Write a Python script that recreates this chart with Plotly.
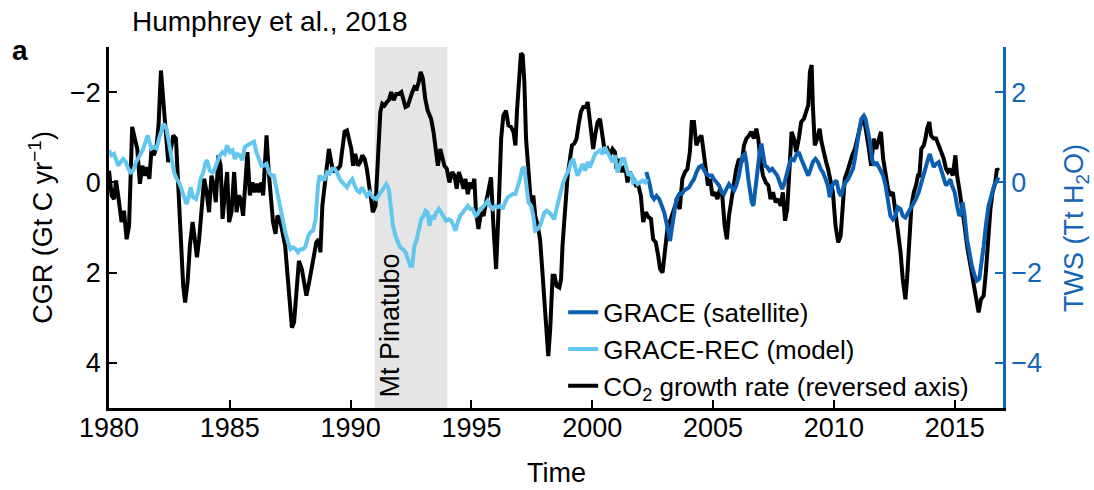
import plotly.graph_objects as go

# CO2 growth rate (Gt C / yr), plotted on a reversed axis
cgr_years = [1980.00, 1980.11, 1980.21, 1980.29, 1980.38, 1980.52, 1980.62, 1980.73, 1980.83, 1980.96,
             1981.07, 1981.17, 1981.28, 1981.38, 1981.49, 1981.56, 1981.67, 1981.76, 1981.86, 1981.97,
             1982.05, 1982.15, 1982.24, 1982.34, 1982.45, 1982.56, 1982.66, 1982.77, 1982.86, 1982.98,
             1983.07, 1983.15, 1983.25, 1983.35, 1983.46, 1983.55, 1983.64, 1983.73, 1983.84, 1983.94,
             1984.04, 1984.14, 1984.24, 1984.34, 1984.42, 1984.53, 1984.62, 1984.70, 1984.79, 1984.89,
             1984.97, 1985.07, 1985.18, 1985.28, 1985.37, 1985.45, 1985.55, 1985.66, 1985.73, 1985.83,
             1985.94, 1986.03, 1986.13, 1986.21, 1986.31, 1986.38, 1986.52, 1986.61, 1986.71, 1986.79,
             1986.89, 1986.97, 1987.07, 1987.18, 1987.29, 1987.38, 1987.48, 1987.57, 1987.66, 1987.76,
             1987.86, 1987.98, 1988.07, 1988.17, 1988.28, 1988.38, 1988.48, 1988.58, 1988.68, 1988.75,
             1988.83, 1988.93, 1989.02, 1989.10, 1989.20, 1989.27, 1989.38, 1989.48, 1989.57, 1989.66,
             1989.75, 1989.85, 1989.93, 1990.03, 1990.10, 1990.19, 1990.30, 1990.40, 1990.48, 1990.58,
             1990.67, 1990.79, 1990.92, 1991.03, 1991.13, 1991.23, 1991.31, 1991.40, 1991.50, 1991.58,
             1991.68, 1991.78, 1991.89, 1992.00, 1992.10, 1992.19, 1992.27, 1992.37, 1992.47, 1992.55,
             1992.64, 1992.74, 1992.82, 1992.90, 1992.99, 1993.09, 1993.19, 1993.33, 1993.43, 1993.51,
             1993.61, 1993.71, 1993.79, 1993.88, 1993.98, 1994.09, 1994.20, 1994.30, 1994.39, 1994.48,
             1994.57, 1994.67, 1994.75, 1994.85, 1994.95, 1995.03, 1995.12, 1995.19, 1995.29, 1995.40,
             1995.50, 1995.61, 1995.71, 1995.81, 1995.91, 1996.02, 1996.13, 1996.23, 1996.32, 1996.43,
             1996.53, 1996.64, 1996.74, 1996.82, 1996.89, 1996.98, 1997.05, 1997.12, 1997.19, 1997.26,
             1997.37, 1997.47, 1997.56, 1997.64, 1997.74, 1997.84, 1997.92, 1998.02, 1998.11, 1998.18,
             1998.26, 1998.36, 1998.44, 1998.52, 1998.64, 1998.71, 1998.77, 1998.88, 1998.98, 1999.08,
             1999.16, 1999.26, 1999.35, 1999.43, 1999.53, 1999.63, 1999.74, 1999.81, 1999.88, 1999.95,
             2000.04, 2000.12, 2000.22, 2000.32, 2000.43, 2000.52, 2000.63, 2000.73, 2000.84, 2000.94,
             2001.00, 2001.09, 2001.19, 2001.25, 2001.36, 2001.46, 2001.56, 2001.67, 2001.81, 2001.91,
             2002.01, 2002.11, 2002.22, 2002.33, 2002.43, 2002.52, 2002.63, 2002.73, 2002.81, 2002.91,
             2003.00, 2003.11, 2003.21, 2003.32, 2003.43, 2003.52, 2003.62, 2003.73, 2003.84, 2003.94,
             2004.04, 2004.12, 2004.21, 2004.31, 2004.42, 2004.52, 2004.60, 2004.70, 2004.79, 2004.88,
             2004.97, 2005.08, 2005.18, 2005.29, 2005.38, 2005.48, 2005.57, 2005.66, 2005.76, 2005.87,
             2005.96, 2006.07, 2006.19, 2006.28, 2006.38, 2006.49, 2006.58, 2006.69, 2006.79, 2006.87,
             2006.97, 2007.07, 2007.18, 2007.29, 2007.38, 2007.48, 2007.59, 2007.70, 2007.80, 2007.89,
             2007.98, 2008.07, 2008.17, 2008.25, 2008.35, 2008.44, 2008.55, 2008.65, 2008.76, 2008.86,
             2008.94, 2009.01, 2009.08, 2009.13, 2009.21, 2009.31, 2009.41, 2009.49, 2009.59, 2009.68,
             2009.76, 2009.86, 2009.96, 2010.07, 2010.18, 2010.28, 2010.37, 2010.45, 2010.55, 2010.65,
             2010.76, 2010.87, 2010.96, 2011.07, 2011.17, 2011.27, 2011.35, 2011.45, 2011.54, 2011.65,
             2011.75, 2011.86, 2011.95, 2012.04, 2012.14, 2012.24, 2012.34, 2012.44, 2012.55, 2012.64,
             2012.76, 2012.85, 2012.96, 2013.03, 2013.13, 2013.21, 2013.31, 2013.40, 2013.48, 2013.54,
             2013.62, 2013.72, 2013.79, 2013.86, 2013.95, 2014.02, 2014.13, 2014.23, 2014.34, 2014.45,
             2014.55, 2014.64, 2014.72, 2014.82, 2014.92, 2015.03, 2015.10, 2015.19, 2015.30, 2015.41,
             2015.51, 2015.61, 2015.71, 2015.83, 2015.92, 2015.99, 2016.09, 2016.20, 2016.29, 2016.38,
             2016.48, 2016.57, 2016.68, 2016.75, 2016.82]
cgr_values = [-0.26, 0.29, 0.37, -0.04, 0.29, 0.88, 0.63, 1.26, 0.96, -1.23,
              -0.97, -0.74, 0.03, -0.37, -0.15, -0.34, -0.08, -0.74, -0.60, -0.82,
              -1.26, -2.48, -1.86, -1.12, -0.45, -0.74, -1.04, -0.97, -0.08, 1.10,
              2.29, 2.66, 2.22, 1.40, 0.88, 1.26, 1.66, 1.26, 0.52, -0.08,
              0.22, 0.66, -0.15, 0.07, 0.44, -0.60, -0.37, 0.81, 0.29, -0.23,
              0.88, 0.66, -0.23, 0.66, 0.29, 0.37, 0.74, -0.23, -0.67, 0.29,
              0.00, 0.22, 0.03, 0.22, 0.00, 0.29, -1.04, -0.23, 0.37, 0.88,
              1.14, 0.74, 0.81, 1.10, 1.40, 2.00, 2.74, 3.22, 3.10, 2.44,
              1.74, 1.92, 2.22, 2.51, 2.22, 1.92, 1.55, 1.33, 1.26, 1.55,
              0.52, 0.07, -0.37, -0.74, -0.45, -0.23, -0.30, -0.30, -0.37, -0.82,
              -1.12, -1.15, -1.00, -0.74, -0.37, -0.63, -0.37, -0.45, -0.60, -0.52,
              -0.30, 0.22, 0.66, 0.52, -0.37, -1.56, -1.74, -1.70, -1.78, -1.82,
              -2.00, -1.82, -1.96, -1.96, -2.00, -1.82, -1.67, -1.70, -1.89, -2.00,
              -2.11, -2.08, -2.23, -2.45, -2.30, -1.85, -1.59, -1.41, -1.12, -0.82,
              -0.37, -0.74, -0.60, -0.37, -0.30, 0.00, -0.23, -0.15, 0.14, -0.23,
              -0.08, 0.14, -0.08, 0.26, 0.00, 0.14, -0.08, 0.66, 1.03, 0.66,
              0.74, 0.44, 0.07, -0.11, 0.96, 1.92, 0.52, -0.97, -1.48, -1.59,
              -1.26, -1.23, -1.12, -0.82, -1.63, -2.37, -2.86, -2.82, -2.23, -0.97,
              0.00, 0.52, 0.29, 0.74, 0.96, 1.26, 1.85, 2.66, 3.40, 3.85,
              3.25, 2.07, 2.07, 2.29, 2.33, 2.14, 1.40, 0.66, -0.15, -0.52,
              -0.82, -0.86, -0.97, -1.26, -1.56, -1.67, -1.67, -1.78, -1.41, -1.04,
              -0.74, -1.04, -1.33, -1.41, -1.04, -0.67, -0.74, -0.60, -0.74, -0.67,
              -0.30, -0.52, -0.30, -0.23, -0.37, 0.00, -0.23, -0.08, 0.07, 0.07,
              0.29, 0.88, 0.66, 0.77, 0.81, 1.26, 1.33, 1.63, 1.92, 2.00,
              1.55, 1.03, 0.88, 0.66, 0.52, 0.44, 0.59, -0.08, -0.23, -0.30,
              -0.67, -1.34, -1.34, -0.82, -0.97, -1.04, -0.67, -0.23, 0.07, -0.08,
              0.29, 0.22, 0.37, 0.14, 0.29, 0.96, 1.26, 0.74, 0.37, -0.08,
              -0.30, -0.52, -0.45, -0.82, -0.97, -1.04, -1.12, -0.97, -1.19, -0.97,
              -0.45, -0.15, 0.00, 0.07, 0.37, 0.22, 0.44, 0.37, 0.52, 0.22,
              0.85, 0.59, -0.23, -1.12, -0.97, -0.67, -0.97, -1.34, -1.41, -1.56,
              -1.71, -2.45, -2.60, -1.71, -0.82, -0.97, -1.19, -0.89, -0.60, -0.45,
              -0.30, -0.08, 0.22, 0.96, 1.33, 1.19, 0.37, -0.08, -0.23, -0.45,
              -0.60, -0.74, -0.97, -1.26, -1.41, -1.34, -1.12, -0.74, -0.37, -0.97,
              -0.74, -0.97, -1.12, -0.52, -0.23, 0.14, 0.29, 0.22, 0.66, 1.03,
              1.55, 2.14, 2.59, 2.14, 1.26, 0.52, 0.22, 0.07, -0.15, -0.15,
              -0.74, -0.82, -0.97, -1.19, -1.34, -1.04, -0.97, -0.97, -0.82, -0.67,
              -0.52, -0.30, -0.23, -0.30, -0.15, -0.60, -0.15, 0.14, 0.52, 0.96,
              1.40, 1.70, 2.00, 2.37, 2.66, 2.88, 2.59, 2.51, 2.00, 1.26,
              0.59, 0.22, 0.00, -0.30, -0.26]

# GRACE-REC reconstruction of terrestrial water storage (Tt H2O)
rec_years = [1980.00, 1980.11, 1980.21, 1980.29, 1980.38, 1980.48, 1980.59, 1980.70, 1980.80, 1980.90,
             1981.00, 1981.12, 1981.21, 1981.31, 1981.42, 1981.53, 1981.60, 1981.67, 1981.76, 1981.86,
             1981.97, 1982.07, 1982.18, 1982.27, 1982.38, 1982.48, 1982.59, 1982.69, 1982.80, 1982.90,
             1983.00, 1983.10, 1983.21, 1983.28, 1983.38, 1983.48, 1983.60, 1983.69, 1983.79, 1983.90,
             1984.00, 1984.06, 1984.17, 1984.29, 1984.38, 1984.48, 1984.59, 1984.70, 1984.79, 1984.89,
             1985.00, 1985.11, 1985.21, 1985.30, 1985.41, 1985.52, 1985.62, 1985.71, 1985.83, 1985.94,
             1986.00, 1986.10, 1986.21, 1986.31, 1986.40, 1986.52, 1986.62, 1986.72, 1986.82, 1986.90,
             1987.00, 1987.10, 1987.20, 1987.30, 1987.41, 1987.51, 1987.62, 1987.73, 1987.82, 1987.92,
             1988.03, 1988.14, 1988.24, 1988.33, 1988.44, 1988.55, 1988.65, 1988.72, 1988.83, 1988.93,
             1989.02, 1989.13, 1989.24, 1989.34, 1989.43, 1989.55, 1989.66, 1989.75, 1989.85, 1989.96,
             1990.07, 1990.17, 1990.26, 1990.37, 1990.47, 1990.58, 1990.67, 1990.79, 1990.92, 1991.06,
             1991.20, 1991.33, 1991.48, 1991.58, 1991.65, 1991.75, 1991.86, 1991.95, 1992.05, 1992.16,
             1992.27, 1992.37, 1992.47, 1992.55, 1992.64, 1992.74, 1992.82, 1992.92, 1993.02, 1993.10,
             1993.19, 1993.26, 1993.36, 1993.44, 1993.54, 1993.65, 1993.75, 1993.84, 1993.95, 1994.06,
             1994.16, 1994.26, 1994.34, 1994.43, 1994.53, 1994.64, 1994.75, 1994.85, 1994.95, 1995.05,
             1995.17, 1995.26, 1995.36, 1995.47, 1995.58, 1995.67, 1995.77, 1995.88, 1995.99, 1996.09,
             1996.19, 1996.29, 1996.40, 1996.50, 1996.60, 1996.71, 1996.82, 1996.91, 1997.01, 1997.10,
             1997.19, 1997.26, 1997.36, 1997.47, 1997.56, 1997.64, 1997.74, 1997.84, 1997.92, 1998.02,
             1998.11, 1998.22, 1998.33, 1998.43, 1998.52, 1998.61, 1998.71, 1998.80, 1998.91, 1999.02,
             1999.12, 1999.21, 1999.30, 1999.39, 1999.49, 1999.60, 1999.71, 1999.81, 1999.90, 2000.01,
             2000.12, 2000.22, 2000.32, 2000.43, 2000.52, 2000.63, 2000.73, 2000.84, 2000.94, 2001.05,
             2001.14, 2001.23, 2001.32, 2001.42, 2001.50, 2001.60, 2001.69, 2001.78, 2001.87, 2001.97,
             2002.08, 2002.19, 2002.28]
rec_values = [0.71, 0.60, 0.63, 0.52, 0.37, 0.45, 0.52, 0.45, 0.30, 0.22,
              0.26, 0.45, 0.56, 0.63, 0.75, 0.97, 1.04, 0.90, 0.75, 0.78,
              0.75, 0.97, 1.19, 1.30, 1.19, 0.90, 0.60, 0.22, 0.08, 0.00,
              -0.15, -0.30, -0.48, -0.37, -0.11, -0.33, -0.37, -0.22, 0.08, 0.22,
              0.45, 0.49, 0.26, 0.22, 0.30, 0.45, 0.60, 0.67, 0.63, 0.82,
              0.67, 0.71, 0.52, 0.63, 0.60, 0.49, 0.78, 0.82, 0.86, 0.90,
              0.90, 0.67, 0.52, 0.37, 0.37, 0.41, 0.22, 0.15, 0.15, -0.07,
              -0.37, -0.59, -0.82, -1.11, -1.33, -1.48, -1.44, -1.48, -1.55, -1.48,
              -1.48, -1.41, -1.19, -1.11, -1.07, -0.82, -0.07, 0.15, 0.07, 0.07,
              0.22, 0.19, 0.30, 0.30, 0.22, 0.07, 0.00, -0.07, -0.11, 0.00,
              0.07, -0.07, -0.18, -0.22, -0.11, -0.22, -0.30, -0.22, -0.33, -0.37,
              -0.26, -0.15, -0.04, -0.15, -0.52, -0.96, -1.19, -1.33, -1.44, -1.48,
              -1.55, -1.70, -1.85, -1.85, -1.41, -1.26, -1.04, -0.82, -0.74, -0.63,
              -0.67, -0.96, -0.74, -0.82, -0.67, -0.59, -0.67, -0.74, -0.85, -0.82,
              -0.85, -0.96, -1.07, -0.89, -0.74, -0.67, -0.59, -0.52, -0.59, -0.59,
              -0.74, -0.70, -0.59, -0.55, -0.48, -0.41, -0.52, -0.59, -0.52, -0.55,
              -0.52, -0.59, -0.44, -0.33, -0.30, -0.26, -0.26, -0.11, 0.07, 0.30,
              0.34, 0.00, -0.44, -0.52, -0.74, -1.07, -1.04, -0.96, -0.82, -0.67,
              -0.63, -0.67, -0.74, -0.82, -0.59, -0.37, -0.18, 0.00, 0.15, 0.26,
              0.45, 0.52, 0.33, 0.15, 0.26, 0.41, 0.26, 0.45, 0.33, 0.49,
              0.63, 0.67, 0.71, 0.63, 0.78, 0.67, 0.56, 0.45, 0.60, 0.22,
              0.37, 0.52, 0.52, 0.30, 0.15, 0.22, 0.00, 0.04, -0.04, 0.00,
              0.04, 0.00, 0.07]

# GRACE satellite terrestrial water storage (Tt H2O)
grace_years = [2002.24, 2002.36, 2002.47, 2002.56, 2002.66, 2002.77, 2002.88, 2002.98, 2003.07, 2003.15,
               2003.22, 2003.29, 2003.39, 2003.48, 2003.60, 2003.71, 2003.80, 2003.90, 2004.01, 2004.12,
               2004.21, 2004.31, 2004.42, 2004.53, 2004.63, 2004.72, 2004.83, 2004.95, 2005.04, 2005.14,
               2005.25, 2005.36, 2005.45, 2005.55, 2005.66, 2005.76, 2005.87, 2005.96, 2006.07, 2006.17,
               2006.25, 2006.32, 2006.38, 2006.46, 2006.53, 2006.60, 2006.67, 2006.74, 2006.83, 2006.93,
               2007.00, 2007.07, 2007.15, 2007.24, 2007.34, 2007.45, 2007.55, 2007.66, 2007.76, 2007.86,
               2007.96, 2008.05, 2008.14, 2008.24, 2008.35, 2008.44, 2008.55, 2008.65, 2008.76, 2008.86,
               2008.94, 2009.04, 2009.13, 2009.24, 2009.34, 2009.45, 2009.55, 2009.66, 2009.75, 2009.83,
               2009.93, 2010.03, 2010.11, 2010.21, 2010.30, 2010.39, 2010.48, 2010.59, 2010.69, 2010.79,
               2010.87, 2010.96, 2011.06, 2011.14, 2011.24, 2011.31, 2011.40, 2011.49, 2011.58, 2011.68,
               2011.76, 2011.86, 2011.95, 2012.04, 2012.14, 2012.24, 2012.34, 2012.44, 2012.55, 2012.64,
               2012.76, 2012.85, 2012.96, 2013.07, 2013.17, 2013.26, 2013.38, 2013.51, 2013.62, 2013.72,
               2013.81, 2013.90, 2013.97, 2014.04, 2014.13, 2014.23, 2014.34, 2014.45, 2014.55, 2014.64,
               2014.75, 2014.82, 2014.89, 2015.00, 2015.10, 2015.19, 2015.28, 2015.33, 2015.41, 2015.51,
               2015.61, 2015.71, 2015.83, 2015.92, 2016.02, 2016.10, 2016.20, 2016.29, 2016.40, 2016.52,
               2016.61, 2016.71, 2016.82]
grace_values = [0.23, 0.00, -0.30, -0.37, -0.30, -0.37, -0.52, -0.67, -0.89, -1.11,
                -1.30, -1.04, -0.67, -0.37, -0.26, -0.26, -0.18, -0.15, -0.11, 0.00,
                0.07, 0.22, 0.34, 0.37, 0.26, 0.19, 0.15, 0.15, 0.07, 0.00,
                -0.07, -0.22, -0.26, -0.15, -0.04, -0.11, -0.18, -0.07, 0.15, 0.45,
                0.60, 0.63, 0.45, 0.07, -0.22, -0.44, -0.52, -0.15, 0.30, 0.67,
                0.86, 0.67, 0.37, 0.34, 0.26, 0.30, 0.22, 0.15, 0.00, -0.15,
                0.00, 0.22, 0.37, 0.52, 0.49, 0.60, 0.67, 0.52, 0.37, 0.26,
                0.15, 0.30, 0.45, 0.52, 0.45, 0.30, 0.22, 0.07, -0.07, -0.33,
                -0.07, 0.00, 0.04, -0.22, -0.30, -0.11, 0.00, 0.07, 0.19, 0.30,
                0.52, 0.90, 1.19, 1.41, 1.48, 1.41, 1.19, 0.90, 0.52, 0.37,
                0.45, 0.34, 0.22, 0.15, -0.07, -0.37, -0.74, -0.82, -0.74, -0.55,
                -0.59, -0.74, -0.78, -0.67, -0.59, -0.52, -0.39, -0.22, 0.00, 0.22,
                0.37, 0.52, 0.63, 0.52, 0.34, 0.41, 0.45, 0.26, 0.07, -0.07,
                0.00, 0.07, -0.07, -0.22, -0.52, -0.74, -0.67, -0.44, -0.74, -1.26,
                -1.55, -1.85, -2.07, -2.18, -2.14, -1.85, -1.41, -0.96, -0.52, -0.30,
                -0.11, 0.00, 0.11]

x_ticks = [1980, 1985, 1990, 1995, 2000, 2005, 2010, 2015]
cgr_ticks = [-2, 0, 2, 4]
tws_ticks = [-4, -2, 0, 2]
pinatubo = [1991, 1994]

FONT = "Liberation Sans, Arial, Helvetica, sans-serif"
BLACK = "#000000"
LIGHT_BLUE = "#62c6ef"
DARK_BLUE = "#0b5fb3"
AXIS_BLUE = "#1565b7"
FS = 27


def label(text, x, y, xref="paper", yref="paper", angle=0, size=FS, color=BLACK):
    """Free-standing text centred on (x, y)."""
    fig.add_annotation(text=text, xref=xref, yref=yref, x=x, y=y,
                       xanchor="center", yanchor="middle", textangle=angle,
                       showarrow=False, font=dict(family=FONT, size=size, color=color))


fig = go.Figure()

fig.add_trace(go.Scatter(
    x=grace_years, y=grace_values, yaxis="y2", mode="lines",
    name="GRACE (satellite)", line=dict(color=DARK_BLUE, width=4),
))
fig.add_trace(go.Scatter(
    x=rec_years, y=rec_values, yaxis="y2", mode="lines",
    name="GRACE-REC (model)", line=dict(color=LIGHT_BLUE, width=4),
))
fig.add_trace(go.Scatter(
    x=cgr_years, y=cgr_values, yaxis="y", mode="lines",
    name="CO<sub>2</sub> growth rate (reversed axis)", line=dict(color=BLACK, width=4),
))

# Mt Pinatubo eruption period
fig.add_shape(type="rect", xref="x", yref="paper",
              x0=pinatubo[0], x1=pinatubo[1], y0=0, y1=1,
              fillcolor="#e5e5e5", line=dict(width=0), layer="below")

label("Mt Pinatubo", pinatubo[0] + 0.62, 0.228, xref="x", angle=-90)
label("Humphrey et al., 2018", 0.18, 1.07, size=28)
label("<b>a</b>", -0.099, 0.99, size=28)
label("CGR (Gt C yr<sup>−1</sup>)", -0.077, 0.5, angle=-90)
label("TWS (Tt H<sub>2</sub>O)", 1.081, 0.5, angle=-90, color=AXIS_BLUE)
label("Time", 0.5, -0.18)

fig.update_layout(
    width=1094, height=490,
    margin=dict(l=109, r=91, t=47, b=82),
    paper_bgcolor="white", plot_bgcolor="white",
    font=dict(family=FONT, size=FS, color=BLACK),
    showlegend=True,
    legend=dict(x=0.508, y=0.33, xanchor="left", yanchor="top",
                bgcolor="rgba(0,0,0,0)", borderwidth=0,
                font=dict(family=FONT, size=26, color=BLACK),
                tracegroupgap=0, itemwidth=30),
    xaxis=dict(range=[1980, 2017], tickvals=x_ticks, ticks="inside", ticklen=8,
               tickwidth=1.5, tickcolor=BLACK, showline=True, linecolor=BLACK,
               linewidth=2.5, showgrid=False, zeroline=False, ticklabelstandoff=-6,
               tickfont=dict(family=FONT, size=FS, color=BLACK)),
    yaxis=dict(range=[5, -3], tickvals=cgr_ticks, ticks="inside", ticklen=8,
               tickwidth=1.5, tickcolor=BLACK, showline=True, linecolor=BLACK,
               linewidth=2.5, showgrid=False, zeroline=False,
               tickfont=dict(family=FONT, size=FS, color=BLACK)),
    yaxis2=dict(range=[-5, 3], tickvals=tws_ticks, overlaying="y", side="right",
                ticks="inside", ticklen=8, tickwidth=1.5, tickcolor=AXIS_BLUE,
                showline=True, linecolor=AXIS_BLUE, linewidth=2.5,
                showgrid=False, zeroline=False,
                tickfont=dict(family=FONT, size=FS, color=AXIS_BLUE)),
)

fig.write_html("out.html")
